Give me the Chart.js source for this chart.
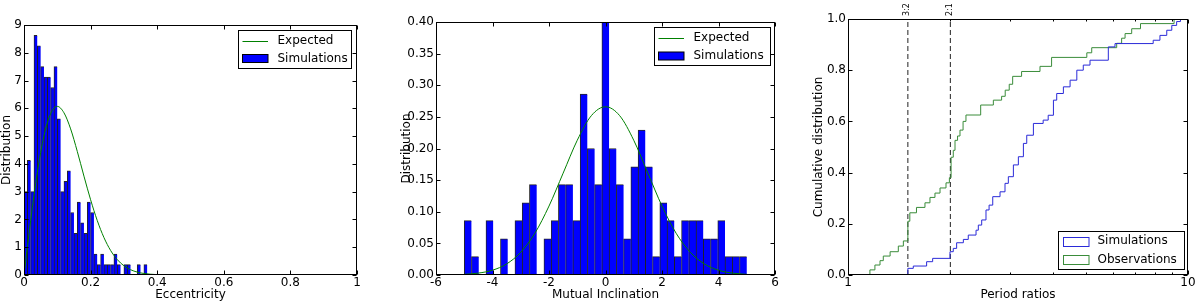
<!DOCTYPE html>
<html lang="en">
<head>
<meta charset="UTF-8">
<title>Eccentricity, mutual inclination and period ratios</title>
<style>
    html, body { margin: 0; padding: 0; background: #fff; }
    #wrap { position: relative; width: 1200px; height: 302px; }
    #wrap canvas { position: absolute; top: 0; }
</style>
</head>
<body>
<div id="wrap">
    <canvas id="eccChart" width="400" height="302" style="left:0"></canvas>
    <canvas id="incChart" width="412" height="302" style="left:400px"></canvas>
    <canvas id="perChart" width="388" height="302" style="left:812px"></canvas>
</div>

<script src="https://cdn.jsdelivr.net/npm/chart.js"></script>
<script>
// Eccentricity histogram (density) and expected curve
const eccBinWidth = 0.01;
const eccDensity = [3.0, 4.125, 3.0, 8.625, 8.25, 7.5, 7.125, 7.125, 6.75, 7.5,
                    5.625, 3.0, 3.375, 3.75, 2.25, 1.5, 2.625, 1.875, 1.5, 2.625,
                    2.25, 0.75, 0.375, 0.75, 0.375, 0.375, 0.375, 0.75, 0.375, 0,
                    0.375, 0.375, 0, 0, 0.375, 0, 0.375];
const eccCurveX = [0, 0.02, 0.04, 0.06, 0.08, 0.10, 0.12, 0.14, 0.16, 0.18, 0.20, 0.22,
                   0.24, 0.26, 0.28, 0.30, 0.32, 0.34, 0.36, 0.38, 0.40, 0.45, 0.50];
const eccCurveY = [0, 1.96, 3.69, 5.01, 5.81, 6.07, 5.84, 5.26, 4.45, 3.56, 2.71, 1.96,
                   1.35, 0.885, 0.556, 0.333, 0.191, 0.105, 0.055, 0.028, 0.013, 0.002, 0];

// Mutual inclination histogram (density) and expected curve
const incBinStart = -5;
const incBinWidth = 10 / 39;
const incDensity = [0.086, 0.029, 0, 0.086, 0, 0.057, 0, 0.086, 0.114, 0.143,
                    0, 0.057, 0.086, 0.143, 0.143, 0.086, 0.286, 0.2, 0.143, 0.4,
                    0.2, 0.143, 0.057, 0.171, 0.229, 0.171, 0.029, 0.114, 0.086, 0.029,
                    0.086, 0.086, 0.086, 0.057, 0.057, 0.086, 0.029, 0.029, 0.029];
const incCurveX = [-5, -4.5, -4, -3.5, -3, -2.5, -2, -1.5, -1, -0.5, 0,
                   0.5, 1, 1.5, 2, 2.5, 3, 3.5, 4, 4.5, 5];
const incCurveY = [0.001, 0.003, 0.0076, 0.0175, 0.036, 0.066, 0.109, 0.161, 0.213, 0.252, 0.266,
                   0.252, 0.213, 0.161, 0.109, 0.066, 0.036, 0.0175, 0.0076, 0.003, 0.001];

// Cumulative distributions of period ratios
const simRatio = [1.5, 1.5, 1.556, 1.703, 1.774, 1.995, 2.04, 2.087, 2.184, 2.258,
                  2.38, 2.417, 2.473, 2.546, 2.6, 2.665, 2.8, 2.896, 2.962, 3.065,
                  3.17, 3.28, 3.355, 3.51, 3.75, 3.88, 4.02, 4.11, 4.3, 4.5,
                  4.71, 4.92, 5.15, 5.83, 6.1, 7.9, 8.27, 8.66, 8.96, 9.26, 9.5, 10];
const simCdf = [0, 0.026, 0.035, 0.052, 0.065, 0.091, 0.104, 0.126, 0.139, 0.156,
                0.175, 0.195, 0.215, 0.254, 0.273, 0.306, 0.325, 0.358, 0.384, 0.43,
                0.462, 0.514, 0.546, 0.592, 0.605, 0.624, 0.683, 0.709, 0.735, 0.761,
                0.8, 0.82, 0.839, 0.891, 0.904, 0.917, 0.936, 0.956, 0.975, 0.99, 1.0, 1.0];
const obsRatio = [1.16, 1.16, 1.20, 1.242, 1.27, 1.33, 1.406, 1.455, 1.50, 1.52,
                  1.59, 1.684, 1.742, 1.802, 1.865, 1.942, 1.987, 2.01, 2.04, 2.064,
                  2.10, 2.135, 2.18, 2.223, 2.456, 2.676, 2.83, 2.9, 2.98, 3.05,
                  3.24, 3.67, 3.97, 5.04, 5.21, 6.17, 6.38, 6.53, 6.83, 7.25, 9.1, 10];
const obsCdf = [0, 0.02, 0.039, 0.056, 0.074, 0.091, 0.113, 0.133, 0.21, 0.243,
                0.264, 0.282, 0.303, 0.32, 0.34, 0.36, 0.38, 0.46, 0.487, 0.526,
                0.543, 0.566, 0.60, 0.625, 0.664, 0.683, 0.698, 0.722, 0.745, 0.776,
                0.795, 0.815, 0.85, 0.868, 0.888, 0.905, 0.925, 0.943, 0.962, 0.982, 1.0, 1.0];
const resonances = [1.5, 2];
const resonanceLabels = ['3:2', '2:1'];
const periodTicks = [1, 2, 3, 4, 5, 6, 7, 8, 9, 10];
const periodTickLabels = ['1', '', '', '', '', '', '', '', '', '10'];

Chart.defaults.font.family = '"DejaVu Sans", sans-serif';
Chart.defaults.font.size = 12;
Chart.defaults.color = '#000';
Chart.defaults.animation = false;
Chart.defaults.plugins.legend.display = false;
Chart.defaults.plugins.tooltip.enabled = false;

const pairs = (xs, ys) => xs.map((x, i) => ({ x: x, y: ys[i] }));
const binned = (start, w, ys) => ys.map((y, i) => ({ x: start + (i + 0.5) * w, y: y }));

// matplotlib-like frame, inward ticks, boxed legend, resonance labels
const panelDecor = {
    id: 'panelDecor',
    afterDatasetsDraw(chart, args, opts) {
        const { ctx, chartArea: a, scales } = chart;
        const L = Math.round(a.left) + 0.5, R = Math.round(a.right) - 0.5;
        const T = Math.round(a.top) + 0.5, B = Math.round(a.bottom) - 0.5;
        ctx.save();
        ctx.strokeStyle = '#000';
        ctx.lineWidth = 1;
        ctx.setLineDash([]);
        ctx.beginPath();
        scales.x.ticks.forEach(t => {
            const px = Math.round(scales.x.getPixelForValue(t.value)) + 0.5;
            const len = t.label === '' ? 2 : 4;
            ctx.moveTo(px, B); ctx.lineTo(px, B - len);
            ctx.moveTo(px, T); ctx.lineTo(px, T + len);
        });
        scales.y.ticks.forEach(t => {
            const py = Math.round(scales.y.getPixelForValue(t.value)) + 0.5;
            ctx.moveTo(L, py); ctx.lineTo(L + 4, py);
            ctx.moveTo(R, py); ctx.lineTo(R - 4, py);
        });
        ctx.stroke();
        ctx.strokeRect(L, T, R - L, B - T);

        (opts.marks || []).forEach(m => {
            const px = scales.x.getPixelForValue(m.value);
            ctx.save();
            ctx.translate(px - 0.5, a.top - 3);
            ctx.rotate(-Math.PI / 2);
            ctx.font = '8px "DejaVu Sans"';
            ctx.fillStyle = '#000';
            ctx.textAlign = 'left';
            ctx.textBaseline = 'middle';
            ctx.fillText(m.label, 0, 0);
            ctx.restore();
        });

        const g = opts.legend;
        if (g) {
            ctx.fillStyle = '#fff';
            ctx.fillRect(g.x, g.y, g.w, g.h);
            ctx.strokeStyle = '#000';
            ctx.strokeRect(g.x + 0.5, g.y + 0.5, g.w, g.h);
            ctx.font = '12px "DejaVu Sans"';
            ctx.textAlign = 'left';
            ctx.textBaseline = 'middle';
            g.items.forEach((it, i) => {
                const ds = chart.data.datasets[it.ds];
                const cy = g.y + g.rows[i];
                const x0 = g.x + 4.5, x1 = g.x + 30;
                if (it.kind === 'line') {
                    ctx.strokeStyle = ds.borderColor;
                    ctx.beginPath();
                    ctx.moveTo(x0, Math.round(cy) + 0.5);
                    ctx.lineTo(x1, Math.round(cy) + 0.5);
                    ctx.stroke();
                } else if (it.kind === 'fill') {
                    ctx.fillStyle = ds.backgroundColor;
                    ctx.fillRect(x0, cy - 4, x1 - x0, 8);
                    ctx.strokeStyle = '#000';
                    ctx.strokeRect(x0, cy - 4, x1 - x0, 8);
                } else {
                    ctx.strokeStyle = ds.borderColor;
                    ctx.strokeRect(Math.round(x0) + 0.5, Math.round(cy - 4.5) + 0.5, x1 - x0, 9);
                }
                ctx.fillStyle = '#000';
                ctx.fillText(ds.label, g.x + 39.5, cy);
            });
        }
        ctx.restore();
    }
};

function xAxis(opts) {
    return Object.assign({
        offset: false,
        grid: { display: false, drawTicks: false, offset: false },
        border: { display: false },
        ticks: { padding: 1, maxRotation: 0, autoSkip: false },
        title: { display: true, padding: { top: 0, bottom: 0 } },
        afterFit: s => { s.height = 27; }
    }, opts);
}
function yAxis(width, opts) {
    return Object.assign({
        grid: { display: false, drawTicks: false },
        border: { display: false },
        ticks: { padding: 2 },
        title: { display: true, text: 'Distribution', padding: 0 },
        afterFit: s => { s.width = width; }
    }, opts);
}

const barStyle = {
    type: 'bar',
    label: 'Simulations',
    backgroundColor: '#0000ff',
    borderColor: 'rgba(0,0,0,0.85)',
    borderWidth: { top: 1, left: 1, right: 0, bottom: 0 },
    barPercentage: 1,
    categoryPercentage: 1,
    grouped: false
};

// Panel 1: eccentricity
new Chart(document.getElementById('eccChart'), {
    type: 'bar',
    data: {
        datasets: [
            { type: 'line', label: 'Expected', data: pairs(eccCurveX, eccCurveY),
              borderColor: '#008000', borderWidth: 1, pointRadius: 0, cubicInterpolationMode: 'monotone' },
            Object.assign({ data: binned(0, eccBinWidth, eccDensity) }, barStyle)
        ]
    },
    options: {
        responsive: false,
        layout: { padding: { left: 0, top: 25, right: 43, bottom: 0 } },
        scales: {
            x: xAxis({ type: 'linear', min: 0, max: 1,
                ticks: { padding: 1, maxRotation: 0, stepSize: 0.2, callback: v => String(+v.toFixed(2)) },
                title: { display: true, text: 'Eccentricity', padding: { top: 0, bottom: 0 } } }),
            y: yAxis(24, { min: 0, max: 9, ticks: { padding: 2, stepSize: 1 } })
        },
        plugins: {
            panelDecor: {
                legend: { x: 238, y: 30, w: 113, h: 38, rows: [10.5, 28.5],
                          items: [{ ds: 0, kind: 'line' }, { ds: 1, kind: 'fill' }] }
            }
        }
    },
    plugins: [panelDecor]
});

// Panel 2: mutual inclination
new Chart(document.getElementById('incChart'), {
    type: 'bar',
    data: {
        datasets: [
            { type: 'line', label: 'Expected', data: pairs(incCurveX, incCurveY),
              borderColor: '#008000', borderWidth: 1, pointRadius: 0, cubicInterpolationMode: 'monotone' },
            Object.assign({ data: binned(incBinStart, incBinWidth, incDensity) }, barStyle)
        ]
    },
    options: {
        responsive: false,
        layout: { padding: { left: 0, top: 22, right: 37, bottom: 0 } },
        scales: {
            x: xAxis({ type: 'linear', min: -6, max: 6,
                ticks: { padding: 1, maxRotation: 0, stepSize: 2, callback: v => String(v) },
                title: { display: true, text: 'Mutual Inclination', padding: { top: 0, bottom: 0 } } }),
            y: yAxis(36, { min: 0, max: 0.4,
                ticks: { padding: 2, stepSize: 0.05, callback: v => v.toFixed(2) } })
        },
        plugins: {
            panelDecor: {
                legend: { x: 254, y: 27, w: 116, h: 38, rows: [10.5, 29],
                          items: [{ ds: 0, kind: 'line' }, { ds: 1, kind: 'fill' }] }
            }
        }
    },
    plugins: [panelDecor]
});

// Panel 3: cumulative period ratios
new Chart(document.getElementById('perChart'), {
    type: 'line',
    data: {
        datasets: [
            { label: 'Simulations', data: pairs(simRatio, simCdf), borderColor: '#2a2ad8',
              borderWidth: 1, pointRadius: 0, stepped: true },
            { label: 'Observations', data: pairs(obsRatio, obsCdf), borderColor: '#3a8c3a',
              borderWidth: 1, pointRadius: 0, stepped: true }
        ].concat(resonances.map((r, i) => ({
            label: resonanceLabels[i], data: [{ x: r, y: 0 }, { x: r, y: 1 }],
            borderColor: '#222', borderWidth: 1, borderDash: [5, 3], pointRadius: 0
        })))
    },
    options: {
        responsive: false,
        layout: { padding: { left: 0, top: 19, right: 12, bottom: 0 } },
        scales: {
            x: xAxis({ type: 'logarithmic', min: 1, max: 10,
                afterBuildTicks: s => { s.ticks = periodTicks.map(v => ({ value: v })); },
                ticks: { padding: 1, maxRotation: 0, autoSkip: false,
                         callback: v => periodTickLabels[periodTicks.indexOf(v)] },
                title: { display: true, text: 'Period ratios', padding: { top: 0, bottom: 0 } } }),
            y: yAxis(36, { min: 0, max: 1,
                ticks: { padding: 2, stepSize: 0.2, callback: v => v.toFixed(1) },
                title: { display: true, text: 'Cumulative distribution', padding: 0 } })
        },
        plugins: {
            panelDecor: {
                marks: resonances.map((r, i) => ({ value: r, label: resonanceLabels[i] })),
                legend: { x: 246, y: 231, w: 126, h: 38, rows: [10, 28.5],
                          items: [{ ds: 0, kind: 'hollow' }, { ds: 1, kind: 'hollow' }] }
            }
        }
    },
    plugins: [panelDecor]
});
</script>
</body>
</html>
